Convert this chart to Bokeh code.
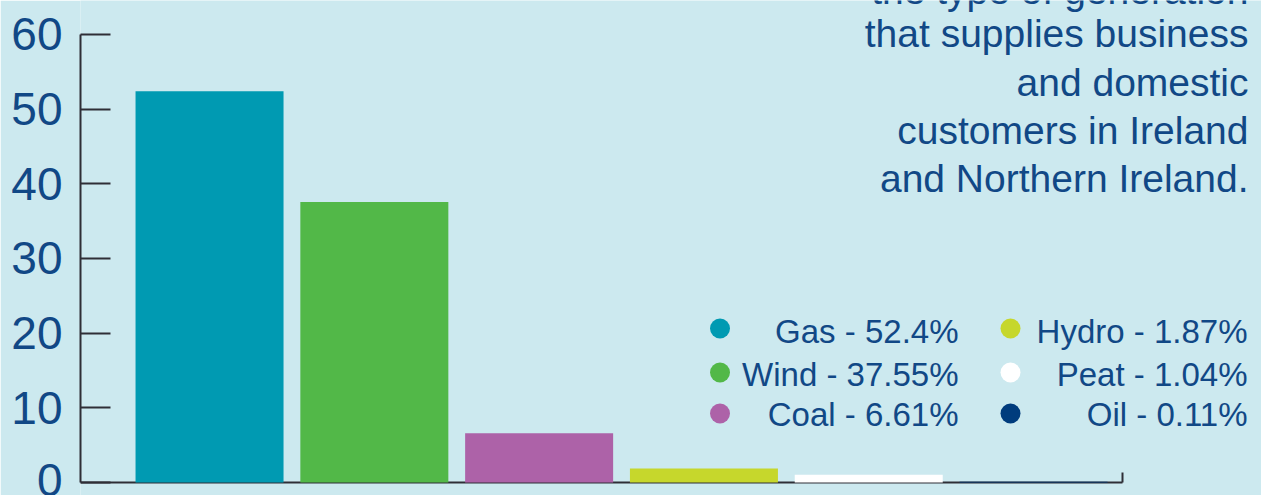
from bokeh.plotting import figure
from bokeh.models import Range1d, FixedTicker
from bokeh.core.properties import value
from bokeh.embed import file_html
from bokeh.resources import INLINE

# ---- data ----
categories = ["Gas", "Wind", "Coal", "Hydro", "Peat", "Oil"]
shares = [52.4, 37.55, 6.61, 1.87, 1.04, 0.11]
colors = ["#009AB2", "#52B848", "#AD62A8", "#C6D72C", "#FFFFFF", "#003C7D"]
y_ticks = [0, 10, 20, 30, 40, 50, 60]
title_lines = [
    "the type of generation",
    "that supplies business",
    "and domestic",
    "customers in Ireland",
    "and Northern Ireland.",
]

BG = "#CCE9EF"
NAVY = "#114886"
AXIS = "#2E2E36"
FONT = "Liberation Sans"

# ---- screen-pixel helpers (canvas origin at screenshot 0,0) ----
W, H = 1261, 495
LEFT = 80               # left border -> frame starts at x 80
XS = 164.8              # px per category slot
X0 = -0.783             # data x at frame left edge
YS = 7.467              # px per y unit
Y0_PX = 482             # screen y of value 0
BASE_FIX = 0.34         # svg text baseline correction (em)


def px_x(px):
    return X0 + (px - LEFT) / XS


def px_y(py):
    return (Y0_PX - py) / YS


p = figure(width=W, height=H, output_backend="svg", toolbar_location=None,
           x_range=Range1d(X0, px_x(W)),
           y_range=Range1d(px_y(H), px_y(0)),
           x_axis_location=None,
           min_border_left=LEFT, min_border_right=0,
           min_border_top=0, min_border_bottom=0)
p.background_fill_color = BG
p.border_fill_color = BG
p.outline_line_color = None
p.xgrid.visible = False
p.ygrid.visible = False

ax = p.yaxis[0]
ax.ticker = FixedTicker(ticks=y_ticks)
ax.bounds = (y_ticks[0], y_ticks[-1])
ax.major_tick_in = 30
ax.major_tick_out = 0
ax.minor_tick_line_color = None
ax.axis_line_color = AXIS
ax.axis_line_width = 2
ax.major_tick_line_color = AXIS
ax.major_tick_line_width = 2
ax.major_label_text_font = FONT
ax.major_label_text_font_size = "46px"
ax.major_label_text_color = NAVY
ax.major_label_standoff = 18

# baseline with end tick
x_end = px_x(1122)
p.segment(x0=[px_x(LEFT)], y0=[0], x1=[x_end], y1=[0], line_color=AXIS, line_width=2)
p.segment(x0=[x_end], y0=[0], x1=[x_end], y1=[10 / YS], line_color=AXIS, line_width=2)

# bars
idx = list(range(len(categories)))
p.vbar(x=idx, top=shares, bottom=0, width=148 / XS,
       fill_color=colors, line_color=None)

# title text (right aligned)
T_FS = 39
t_x = px_x(1248)
t_base = [3, 46.7, 95.0, 143.3, 191.7]
t_ys = [px_y(b - BASE_FIX * T_FS) for b in t_base]
p.text(x=[t_x] * len(title_lines), y=t_ys, text=title_lines,
       text_font=value(FONT), text_font_size=f"{T_FS}px", text_color=NAVY,
       text_align="right", text_baseline="alphabetic")

# custom legend
L_FS = 33
labels = [f"{c} - {v:g}%" for c, v in zip(categories, shares)]
col_marker_px = [719.5, 1010]
col_text_px = [958, 1247]
row_marker_py = [328, 372, 413]
row_base_py = [342, 385, 425]
mx, my, tx, ty = [], [], [], []
for i in range(len(categories)):
    col, row = divmod(i, 3)
    mx.append(px_x(col_marker_px[col]))
    my.append(px_y(row_marker_py[row]))
    tx.append(px_x(col_text_px[col]))
    ty.append(px_y(row_base_py[row] - BASE_FIX * L_FS))
p.scatter(x=mx, y=my, size=20, marker="circle", fill_color=colors, line_color=None)
p.text(x=tx, y=ty, text=labels, text_font=value(FONT), text_font_size=f"{L_FS}px",
       text_color=NAVY, text_align="right", text_baseline="alphabetic")

open("out.html", "w").write(file_html(p, INLINE))
